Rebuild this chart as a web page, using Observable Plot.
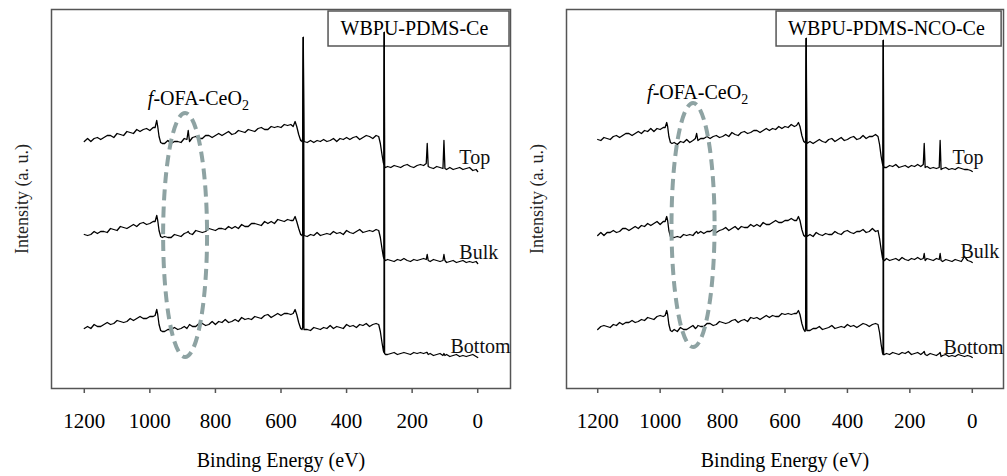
<!DOCTYPE html>
<html><head><meta charset="utf-8">
<script src="https://cdn.jsdelivr.net/npm/d3@7"></script>
<script src="https://cdn.jsdelivr.net/npm/@observablehq/plot@0.6"></script>
<style>
body{margin:0;background:#fff}
#wrap{display:flex;width:1007px;height:476px;background:#fff}
#wrap svg, #wrap svg text{font-family:'Liberation Serif','Times New Roman',serif !important}
</style>
</head><body><div id="wrap"></div>
<script>
// Binding energy grid (eV), shared by all spectra
const energy = [
  1200,1190,1180,1170,1160,1150,1140,1130,1120,1110,1100,1090,1080,1070,1060,1050,1040,1030,1020,1010,1000,990,
  984,979,976,972,967,962,
  955,945,935,925,915,905,895,887,883,879, 870,860,850,840,830,820,810,800,790,780, 770,760,750,740,730,720,710,700,690,680, 670,660,650,640,630,620,610,600,590,580, 570,
  563,557,552,546,540,536,534,532,530,
  520,510,500,490,480,470,460,450,440,430, 420,410,400,390,380,370,360,350,340,330, 320,310,302,
  297,292,288,286,285,284,281,
  275,265,255,245,235,225,215,205,195,185, 175,165,157,154,151,145,135,125,115,106, 103,100,95,85,75,65,55,45,35,25, 15,5,0
];
const xTicks = [1200,1000,800,600,400,200,0];
const seriesNames = ["Top","Bulk","Bottom"];
const panelTitles = ["WBPU-PDMS-Ce","WBPU-PDMS-NCO-Ce"];
const ceLabel = "f-OFA-CeO2";
const xLabel = "Binding Energy (eV)";
const yLabel = "Intensity (a. u.)";

// WBPU-PDMS-Ce (intensity, a.u.)
const topCe = [
  247,250,247,250,251,249,251,253,253,251, 255,254,253,257,256,255,259,257,259,260, 258,261,
  261,268,262,252,246,245,
  245,248,245,247,247,246,250,249,258,247, 251,252,250,250,253,253,251,253,255,253, 255,257,254,255,258,257,256,259,258,257, 260,261,259,259,262,261,262,261,264,263, 264,
  262,267,262,254,248,247,250,351,247,
  246,248,246,248,247,249,247,248,250,247, 250,249,251,249,251,252,249,251,253,252, 250,253,252,
  245,234,226,224,356,222,221,
  222,221,223,222,221,223,224,222,221,223, 224,223,225,245,222,221,220,222,221,220, 248,220,219,221,219,220,221,219,220,221, 218,219,217
];
const bulkCe = [
  154,153,154,157,155,157,157,156,160,159, 158,162,161,160,162,164,162,165,166,164, 165,167,
  167,173,168,158,152,151,
  152,151,151,154,153,152,155,156,157,155, 154,158,157,156,157,160,159,158,160,160, 159,162,160,162,160,164,162,162,165,165, 164,163,167,165,167,165,169,168,167,169, 168,
  168,172,167,160,154,153,155,351,153,
  152,154,153,156,153,154,155,154,157,155, 156,154,158,156,155,157,159,156,157,158, 157,159,158,
  151,140,132,130,356,129,128,
  129,128,127,129,128,130,128,127,129,128, 129,130,129,134,128,127,129,128,127,128, 134,128,126,127,128,126,127,128,126,127, 126,127,125
];
const bottomCe = [
  60,62,60,64,62,62,64,66,64,65, 68,67,66,67,70,68,70,72,70,70, 72,72,
  73,79,74,64,58,57,
  57,59,59,61,59,60,62,60,62,64, 62,62,65,65,63,64,67,64,67,66, 69,66,67,69,67,71,69,70,69,72, 71,70,73,74,71,73,75,73,75,75, 74,
  75,79,74,66,60,59,61,351,59,
  59,58,61,60,59,61,60,63,60,62, 61,60,64,62,63,61,64,63,65,62, 64,65,64,
  57,46,38,36,356,35,34,
  34,35,36,34,35,36,35,34,36,35, 36,35,36,36,34,35,33,34,35,33, 35,33,34,32,33,34,32,33,32,33, 34,32,31
];

// WBPU-PDMS-NCO-Ce (intensity, a.u.)
const topNco = [
  249,248,251,250,249,252,253,251,253,255, 255,253,255,257,255,258,257,260,257,260, 259,261,
  261,266,262,252,246,245,
  246,244,247,246,249,246,248,250,255,248, 250,250,252,250,252,253,251,252,254,252, 256,254,253,256,257,255,256,258,258,256, 258,260,258,260,259,262,260,262,261,264, 262,
  263,266,262,253,247,246,248,350,245,
  247,245,247,249,247,246,249,250,247,249, 251,248,249,251,252,249,250,253,250,252, 252,254,252,
  244,232,225,223,348,222,221,
  221,223,222,224,221,222,223,221,223,222, 224,222,224,245,221,222,220,221,220,221, 248,219,220,221,219,220,219,221,220,219, 219,218,217
];
const bulkNco = [
  153,156,153,156,156,158,156,157,160,160, 158,160,162,160,163,162,165,163,165,167, 164,167,
  167,172,168,158,152,151,
  151,152,151,154,153,154,153,156,157,155, 157,155,157,157,159,156,158,159,161,158, 160,162,159,162,161,161,164,162,164,162, 166,164,164,166,168,166,166,168,168,170, 168,
  168,172,168,159,153,152,154,350,152,
  154,152,156,154,153,155,154,154,157,155, 154,157,158,156,155,157,157,159,156,157, 160,157,158,
  150,139,131,129,348,128,128,
  130,128,129,130,128,131,129,128,130,129, 131,129,130,135,128,130,129,128,130,129, 135,128,127,129,128,127,129,128,127,132, 128,127,126
];
const bottomNco = [
  59,62,63,62,61,64,63,66,64,66, 66,68,66,67,69,68,71,70,69,72, 73,72,
  73,78,74,64,58,57,
  59,57,61,59,59,61,63,60,61,63, 62,62,65,65,63,64,67,66,65,66, 68,69,66,68,69,67,71,70,71,69, 71,73,71,73,72,72,75,74,75,74, 75,
  75,78,74,65,59,57,60,350,58,
  58,60,60,62,59,60,61,63,60,61, 62,61,64,62,63,61,63,65,64,62, 64,65,64,
  56,44,36,34,348,34,34,
  35,34,36,35,34,36,35,37,34,35, 36,34,36,37,34,33,35,34,33,35, 36,32,33,34,32,33,32,34,33,32, 33,32,31
];

const FONT = "Liberation Serif";
const GRAY = "#555";

function panel(cfg) {
  const rows = [];
  cfg.series.forEach((vals, k) => energy.forEach((e, i) => rows.push({e, v: vals[i], s: seriesNames[k]})));
  const ell = cfg.ell;
  const ellipseMark = (index, scales) => {
    const cx = scales.x(ell.x), cy = scales.y(ell.y);
    const rx = Math.abs(scales.x(ell.x - ell.rx) - cx);
    const ry = Math.abs(scales.y(ell.y + ell.ry) - cy);
    return d3.create("svg:ellipse")
      .attr("cx", cx).attr("cy", cy).attr("rx", rx).attr("ry", ry)
      .attr("fill", "none").attr("stroke", "#8ea3a3").attr("stroke-width", 4)
      .attr("stroke-dasharray", "11,6").node();
  };
  const labelData = seriesNames.map((n, k) => ({n, x: cfg.labels[k][0], y: cfg.labels[k][1]}));
  const svg = Plot.plot({
    width: cfg.width, height: 476,
    marginLeft: cfg.ml, marginRight: cfg.mr, marginTop: 9, marginBottom: 88,
    style: {fontFamily: FONT, fontSize: "20px", background: "#fff", color: "#000"},
    x: {domain: [1300, -100]},
    y: {domain: [0, 379], axis: null},
    marks: [
      Plot.rect([cfg.box], {x1: "x1", x2: "x2", y1: "y1", y2: "y2", fill: "white", stroke: GRAY, strokeWidth: 1.5}),
      Plot.line(rows, {x: "e", y: "v", z: "s", stroke: "#000", strokeWidth: 1.3}),
      ellipseMark,
      Plot.frame({stroke: GRAY, strokeWidth: 1.5}),
      Plot.text([cfg.title], {x: () => cfg.titlePos[0], y: () => cfg.titlePos[1], text: d => d, fontSize: 20, fontFamily: FONT, fill: "#000"}),
      Plot.text(labelData, {x: "x", y: "y", text: "n", textAnchor: "start", fontSize: 20, fontFamily: FONT, fill: "#111"}),
      Plot.text([ceLabel], {x: () => cfg.cePos[0], y: () => cfg.cePos[1], text: d => d, fontSize: 20, fontFamily: FONT, fill: "#000"}),
      Plot.text([yLabel], {frameAnchor: "left", dx: -29, rotate: -90, text: d => d, fontSize: 18, fontFamily: FONT, textAnchor: "middle", lineAnchor: "middle", fill: "#222"}),
      Plot.text([xLabel], {frameAnchor: "bottom", dy: 72, text: d => d, fontSize: 20, fontFamily: FONT, textAnchor: "middle", lineAnchor: "middle", fill: "#000"}),
      Plot.axisX({ticks: xTicks, tickFormat: d => String(d), tickSize: 5, tickPadding: 20, fontSize: 21, fontFamily: FONT, stroke: GRAY, strokeWidth: 1.5, fill: "#000", label: null})
    ]
  });
  svg.querySelectorAll("text").forEach(t => {
    if (t.textContent === ceLabel) {
      t.textContent = "";
      const ns = "http://www.w3.org/2000/svg";
      const a = document.createElementNS(ns, "tspan"); a.setAttribute("font-style", "italic"); a.textContent = "f";
      const b = document.createElementNS(ns, "tspan"); b.textContent = "-OFA-CeO";
      const c = document.createElementNS(ns, "tspan"); c.setAttribute("font-size", "14"); c.setAttribute("dy", "5"); c.textContent = "2";
      t.append(a, b, c);
    }
  });
  return svg;
}

const wrap = document.getElementById("wrap");
wrap.append(panel({
  width: 520, ml: 51, mr: 10,
  series: [topCe, bulkCe, bottomCe],
  box: {x1: 455, x2: -97, y1: 342, y2: 377},
  title: panelTitles[0], titlePos: [193, 359.5],
  labels: [[56, 231], [56, 136], [83, 42]],
  cePos: [852, 290],
  ell: {x: 891, y: 153, rx: 67, ry: 122}
}));
wrap.append(panel({
  width: 487, ml: 46, mr: 4,
  series: [topNco, bulkNco, bottomNco],
  box: {x1: 627, x2: -94, y1: 342, y2: 377},
  title: panelTitles[1], titlePos: [275, 359.5],
  labels: [[63, 231], [38, 137], [92, 41]],
  cePos: [880, 296],
  ell: {x: 893, y: 163, rx: 69, ry: 122}
}));
</script></body></html>
